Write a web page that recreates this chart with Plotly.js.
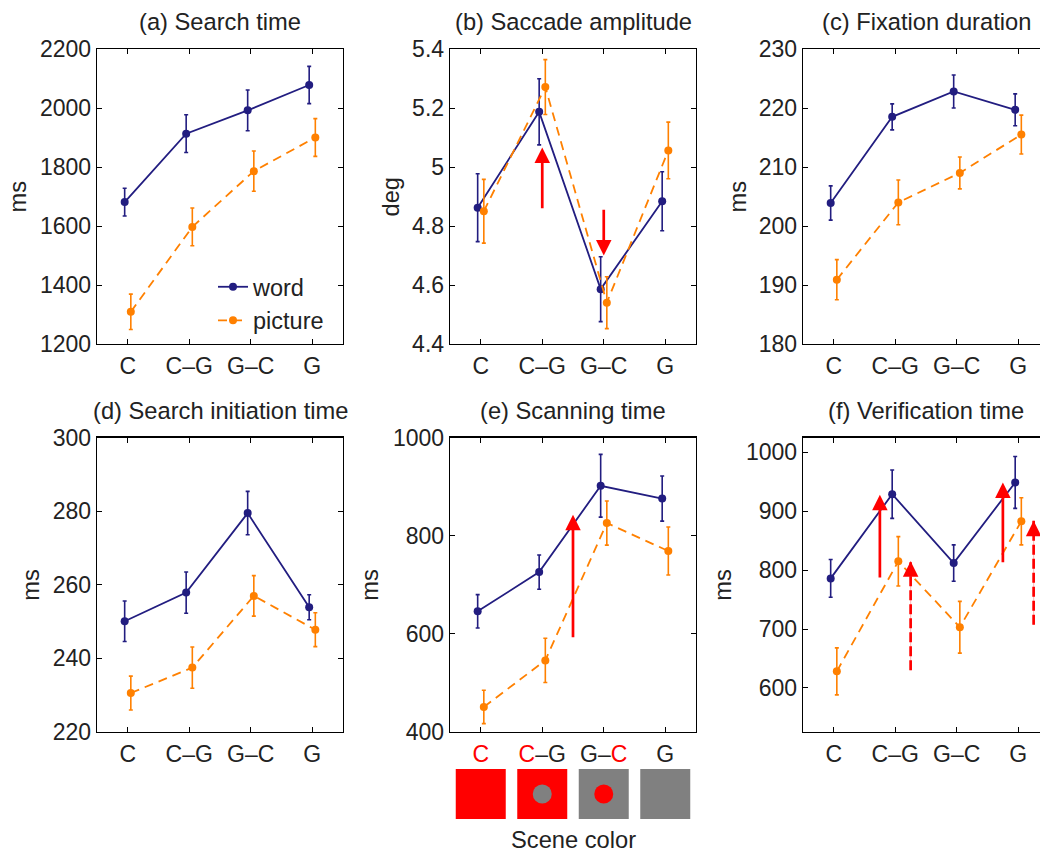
<!DOCTYPE html>
<html><head><meta charset="utf-8">
<script src="https://cdn.plot.ly/plotly-3.0.1.min.js"></script>
<style>html,body{margin:0;padding:0;overflow:hidden;background:#fff}#chart{width:1050px;height:852px}</style>
</head><body><div id="chart"></div><script>
// ---------- data ----------
const categories = ['C', 'C–G', 'G–C', 'G'];
const catPos = [1, 2, 3, 4];
const sceneTickText = ['<span style="color:#ff0000">C</span>', '<span style="color:#ff0000">C</span>–G', 'G–<span style="color:#ff0000">C</span>', 'G'];
const sceneSquareColors = ['#ff0000', '#ff0000', '#808080', '#808080'];
const sceneDotPos = [2, 3];
const sceneDotColors = ['#808080', '#ff0000'];

const searchWord = [1681, 1913, 1992, 2078];
const searchWordErr = [47, 64, 69, 63];
const searchPic = [1309, 1597, 1786, 1900];
const searchPicErr = [60, 64, 68, 64];

const saccWord = [4.862, 5.187, 4.586, 4.884];
const saccWordErr = [0.115, 0.112, 0.110, 0.100];
const saccPic = [4.850, 5.271, 4.540, 5.056];
const saccPicErr = [0.108, 0.093, 0.088, 0.096];

const fixWord = [203.9, 218.5, 222.8, 219.7];
const fixWordErr = [2.9, 2.2, 2.8, 2.7];
const fixPic = [190.9, 204.0, 209.0, 215.5];
const fixPicErr = [3.4, 3.8, 2.7, 3.3];

const initWord = [250.1, 257.9, 279.5, 253.9];
const initWordErr = [5.5, 5.6, 5.9, 3.4];
const initPic = [230.6, 237.5, 257.0, 247.8];
const initPicErr = [4.6, 5.6, 5.5, 4.6];

const scanWord = [646, 726, 902, 876];
const scanWordErr = [34, 35, 64, 46];
const scanPic = [451, 546, 826, 769];
const scanPicErr = [34, 45, 45, 49];

const verWord = [786, 929, 812, 949];
const verWordErr = [32, 41, 31, 44];
const verPic = [628, 815, 703, 883];
const verPicErr = [40, 42, 44, 40];

// arrows: panel index, x position, from value, to value, dashed
const arrowPanel = [1, 1, 4, 5, 5, 5, 5];
const arrowX = [2, 3, 2.5, 1.75, 3.75, 2.25, 4.25];
const arrowFrom = [4.855, 4.86, 590, 785, 811, 630, 707];
const arrowTo = [5.066, 4.70, 843, 928, 949, 815, 884];
const arrowDashed = [false, false, false, false, false, true, true];

const panelTitles = ['(a) Search time', '(b) Saccade amplitude', '(c) Fixation duration',
  '(d) Search initiation time', '(e) Scanning time', '(f) Verification time'];
const yTitles = ['ms', 'deg', 'ms', 'ms', 'ms', 'ms'];
const yRanges = [[1200, 2200], [4.4, 5.4], [180, 230], [220, 300], [400, 1000], [525, 1025]];
const yTick0 = [1200, 4.4, 180, 220, 400, 600];
const yDtick = [200, 0.2, 10, 20, 200, 100];

// ---------- style / layout ----------
const W = 1050, H = 852;
const px = v => v / W, py = v => 1 - v / H;
const NAVY = '#221d80', ORANGE = '#ff8000', RED = '#ff0000', TXT = '#222';
const FONT = 'Liberation Sans, Arial, Helvetica, sans-serif';

const panels = [
  {w: searchWord, we: searchWordErr, p: searchPic, pe: searchPicErr},
  {w: saccWord, we: saccWordErr, p: saccPic, pe: saccPicErr},
  {w: fixWord, we: fixWordErr, p: fixPic, pe: fixPicErr},
  {w: initWord, we: initWordErr, p: initPic, pe: initPicErr},
  {w: scanWord, we: scanWordErr, p: scanPic, pe: scanPicErr},
  {w: verWord, we: verWordErr, p: verPic, pe: verPicErr}
];
const xDomPx = [[97, 343], [450, 696], [803, 1049], [97, 343], [450, 696], [803, 1049]];
const yDomPx = [[49, 344], [49, 344], [49, 344], [437.7, 732], [437.7, 732], [437.7, 732]];
const titleY = [22, 22, 22, 411, 411, 411];
const yTitleX = [17, 390, 737, 31, 370, 723];

const traces = [];
const layout = {
  width: W, height: H, margin: {l: 0, r: 0, t: 0, b: 0},
  paper_bgcolor: '#fff', plot_bgcolor: '#fff',
  font: {family: FONT, color: TXT, size: 23},
  showlegend: true,
  legend: {x: px(213), y: py(265), xanchor: 'left', yanchor: 'top', bgcolor: 'rgba(0,0,0,0)',
           font: {size: 23.5, color: TXT}, tracegroupgap: 0},
  annotations: [], shapes: []
};

panels.forEach((pn, i) => {
  const sfx = i === 0 ? '' : String(i + 1);
  const xa = 'x' + sfx, ya = 'y' + sfx;
  traces.push({
    type: 'scatter', mode: 'lines+markers', name: 'word', legendgroup: 'word', showlegend: i === 0,
    x: catPos.map(c => c - 0.05), y: pn.w,
    error_y: {type: 'data', array: pn.we, visible: true, color: NAVY, thickness: 1.6, width: 2},
    line: {color: NAVY, width: 1.8}, marker: {color: NAVY, size: 8},
    xaxis: xa, yaxis: ya, hoverinfo: 'skip'
  });
  traces.push({
    type: 'scatter', mode: 'lines+markers', name: 'picture', legendgroup: 'picture', showlegend: i === 0,
    x: catPos.map(c => c + 0.05), y: pn.p,
    error_y: {type: 'data', array: pn.pe, visible: true, color: ORANGE, thickness: 1.6, width: 2},
    line: {color: ORANGE, width: 1.8, dash: '9px,6px'}, marker: {color: ORANGE, size: 8},
    xaxis: xa, yaxis: ya, hoverinfo: 'skip'
  });
  layout['xaxis' + sfx] = {
    domain: [px(xDomPx[i][0]), px(xDomPx[i][1])], anchor: ya, range: [0.5, 4.5],
    tickmode: 'array', tickvals: catPos, ticktext: i === 4 ? sceneTickText : categories,
    ticks: 'inside', ticklen: 5, tickwidth: 1, tickcolor: '#000', mirror: 'allticks',
    showline: true, linecolor: '#000', linewidth: 1.3, showgrid: false, zeroline: false,
    tickfont: {size: 23, color: TXT}, ticklabelstandoff: 1, fixedrange: true
  };
  layout['yaxis' + sfx] = {
    domain: [py(yDomPx[i][1]), py(yDomPx[i][0])], anchor: xa, range: yRanges[i],
    tickmode: 'linear', tick0: yTick0[i], dtick: yDtick[i],
    ticks: 'inside', ticklen: 5, tickwidth: 1, tickcolor: '#000', mirror: 'allticks',
    showline: true, linecolor: '#000', linewidth: 1.3, showgrid: false, zeroline: false,
    tickfont: {size: 23, color: TXT}, ticklabelstandoff: 0, fixedrange: true
  };
  layout.annotations.push({
    text: panelTitles[i], xref: xa + ' domain', x: 0.5, yref: 'paper', y: py(titleY[i]),
    xanchor: 'center', yanchor: 'middle', showarrow: false, font: {size: 23.7, color: TXT}
  });
  layout.annotations.push({
    text: yTitles[i], xref: 'paper', x: px(yTitleX[i]), yref: ya + ' domain', y: 0.5,
    xanchor: 'center', yanchor: 'middle', textangle: -90, showarrow: false, font: {size: 23.7, color: TXT}
  });
});

// arrows
arrowX.forEach((ax, k) => {
  const i = arrowPanel[k];
  const sfx = i === 0 ? '' : String(i + 1);
  const xa = 'x' + sfx, ya = 'y' + sfx;
  if (!arrowDashed[k]) {
    layout.annotations.push({
      text: '', xref: xa, yref: ya, x: ax, y: arrowTo[k], axref: xa, ayref: ya, ax: ax, ay: arrowFrom[k],
      showarrow: true, arrowhead: 2, arrowsize: 1.15, arrowwidth: 2.7, arrowcolor: RED, standoff: 0
    });
  } else {
    traces.push({type: 'scatter', mode: 'lines', x: [ax, ax], y: [arrowFrom[k], arrowTo[k]],
      line: {color: 'rgba(255,0,0,0.25)', width: 1.2}, xaxis: xa, yaxis: ya, showlegend: false, hoverinfo: 'skip'});
    traces.push({type: 'scatter', mode: 'lines', x: [ax, ax], y: [arrowFrom[k], arrowTo[k]],
      line: {color: RED, width: 2.7, dash: '10px,4px'}, xaxis: xa, yaxis: ya, showlegend: false, hoverinfo: 'skip'});
    const dir = arrowTo[k] > arrowFrom[k] ? 1 : -1;
    layout.annotations.push({
      text: '', xref: xa, yref: ya, x: ax, y: arrowTo[k], ax: 0, ay: 16 * dir,
      showarrow: true, arrowhead: 2, arrowsize: 1.15, arrowwidth: 2.7, arrowcolor: RED, standoff: 0
    });
  }
});

// scene color key below panel (e)
layout.xaxis7 = {domain: [px(450), px(696)], anchor: 'y7', range: [0.5, 4.5], visible: false, fixedrange: true};
layout.yaxis7 = {domain: [py(819), py(769)], anchor: 'x7', range: [0, 1], visible: false, fixedrange: true};
traces.push({type: 'scatter', mode: 'markers', x: catPos, y: catPos.map(() => 0.5),
  marker: {symbol: 'square', size: 50, color: sceneSquareColors, line: {width: 0}},
  xaxis: 'x7', yaxis: 'y7', showlegend: false, hoverinfo: 'skip', cliponaxis: false});
traces.push({type: 'scatter', mode: 'markers', x: sceneDotPos, y: sceneDotPos.map(() => 0.5),
  marker: {symbol: 'circle', size: 19, color: sceneDotColors, line: {width: 0}},
  xaxis: 'x7', yaxis: 'y7', showlegend: false, hoverinfo: 'skip', cliponaxis: false});
layout.annotations.push({text: 'Scene color', xref: 'x5', x: 2.5, yref: 'paper', y: py(840),
  xanchor: 'center', yanchor: 'middle', showarrow: false, font: {size: 23.7, color: TXT}});

Plotly.newPlot('chart', traces, layout, {staticPlot: true, displayModeBar: false});
</script></body></html>
